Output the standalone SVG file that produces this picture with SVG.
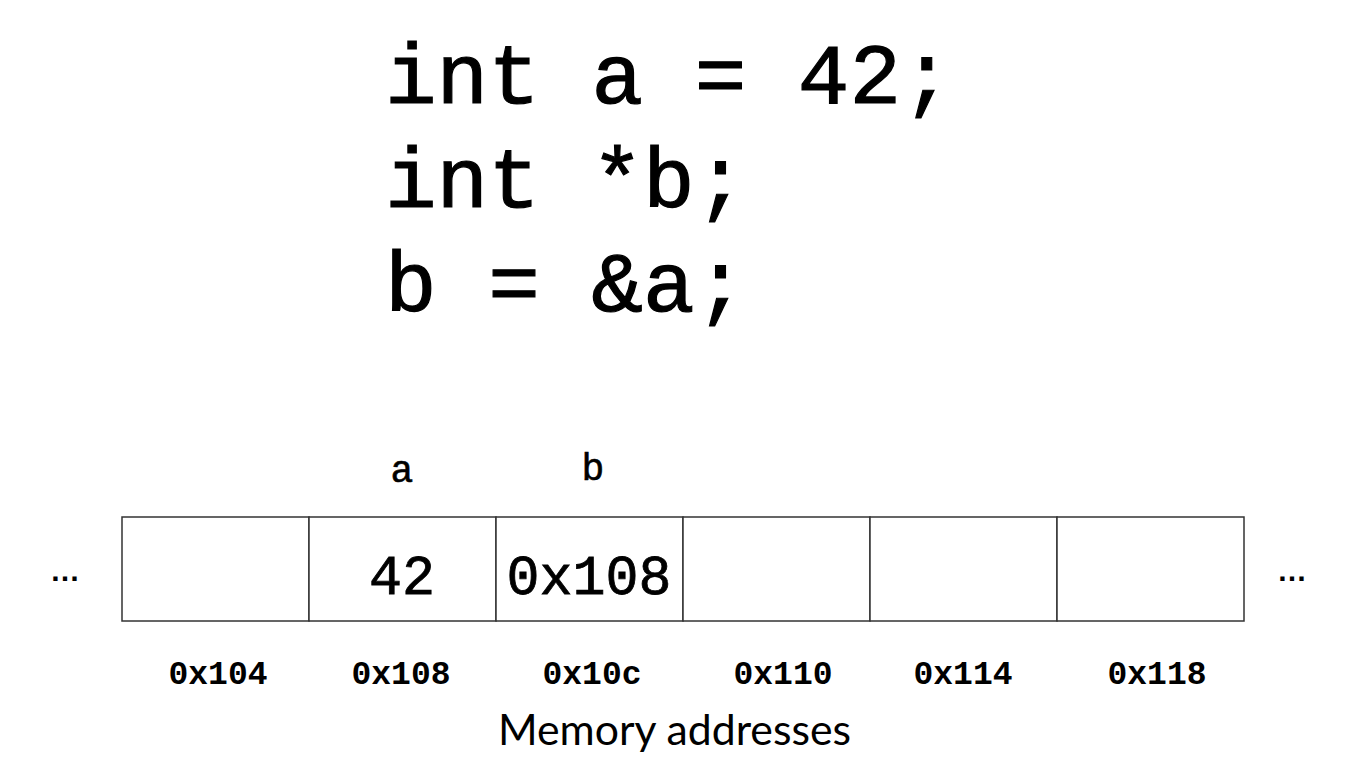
<svg xmlns="http://www.w3.org/2000/svg" width="1351" height="780" viewBox="0 0 1351 780">
<style>
.code{font-family:"Liberation Mono","Courier New",monospace;font-size:86px;fill:#000;stroke:#000;stroke-width:1.2}
.lbl{font-family:"Liberation Mono","Courier New",monospace;font-size:38px;fill:#000;stroke:#000;stroke-width:0.6;text-anchor:middle}
.val{font-family:"Liberation Mono","Courier New",monospace;font-size:55px;fill:#000;stroke:#000;stroke-width:0.8;text-anchor:middle}
.addr{font-family:"Liberation Mono","Courier New",monospace;font-size:33px;font-weight:bold;fill:#000;text-anchor:middle}
.cell{fill:#fff;stroke:#333;stroke-width:1.5}
.dots{font-family:"Liberation Sans",Arial,sans-serif;font-size:30px;font-weight:bold;fill:#000;text-anchor:middle}
.cap{font-family:Lato,"Liberation Sans",sans-serif;font-size:42px;fill:#000;text-anchor:middle}
</style>
<rect width="1351" height="780" fill="#fff"/>
<g id="code">
<text class="code" x="385" y="103">int a = 42;</text>
<text class="code" x="385" y="207">int *b;</text>
<text class="code" x="385" y="311">b = &amp;a;</text>
</g>
<g id="cell-0x104"><rect class="cell" x="122" y="517" width="187" height="104"/><text class="addr" x="218" y="684">0x104</text></g>
<g id="cell-0x108"><rect class="cell" x="309" y="517" width="187" height="104"/><text class="lbl" x="402" y="482">a</text><text class="val" x="402" y="594">42</text><text class="addr" x="401" y="684">0x108</text></g>
<g id="cell-0x10c"><rect class="cell" x="496" y="517" width="187" height="104"/><text class="lbl" x="593" y="480">b</text><text class="val" x="589" y="594">0x108</text><text class="addr" x="592" y="684">0x10c</text></g>
<g id="cell-0x110"><rect class="cell" x="683" y="517" width="187" height="104"/><text class="addr" x="783" y="684">0x110</text></g>
<g id="cell-0x114"><rect class="cell" x="870" y="517" width="187" height="104"/><text class="addr" x="963" y="684">0x114</text></g>
<g id="cell-0x118"><rect class="cell" x="1057" y="517" width="187" height="104"/><text class="addr" x="1157" y="684">0x118</text></g>
<g id="ellipses">
<text class="dots" x="65" y="581">…</text>
<text class="dots" x="1292" y="581">…</text>
</g>
<g id="connectors"></g>
<g id="caption"><text class="cap" x="674.5" y="745" textLength="353" lengthAdjust="spacingAndGlyphs">Memory addresses</text></g>
</svg>
